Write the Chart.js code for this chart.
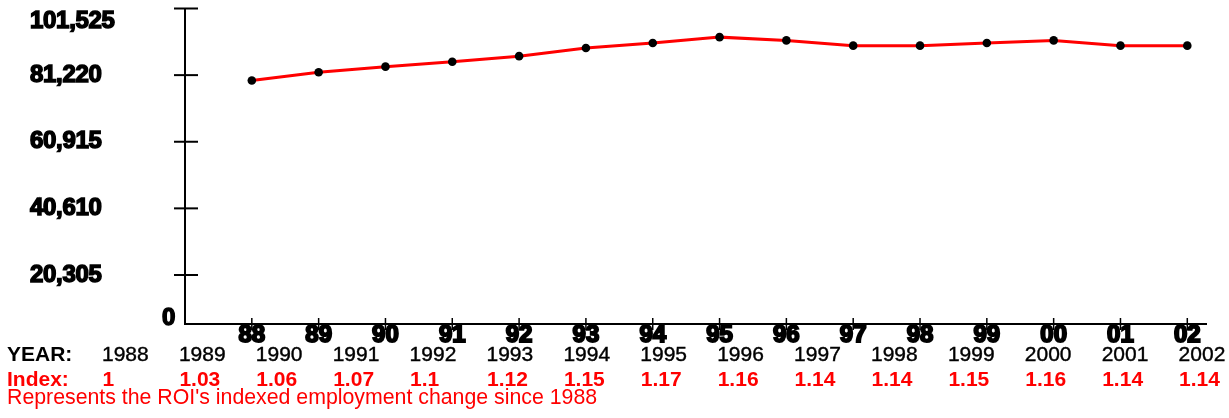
<!DOCTYPE html>
<html><head><meta charset="utf-8">
<script src="https://cdn.jsdelivr.net/npm/chart.js@4/dist/chart.umd.min.js"></script>
<style>
html,body{margin:0;padding:0;background:#fff;}
#wrap{position:relative;width:1229px;height:418px;overflow:hidden;}
canvas{position:absolute;left:0;top:0;}
.t{position:absolute;font-family:"Liberation Sans",Arial,sans-serif;font-size:21px;line-height:20px;white-space:nowrap;}
.b{font-weight:bold;}
.k{color:#000;}
.r{color:#ff0000;}
.yr{-webkit-text-stroke:0.4px #000;}
.cap{font-size:21.3px;}
</style></head><body>
<div id="wrap"><canvas id="c" width="1229" height="418"></canvas><div id="table"></div></div>
<script>
// ---- data ----
const categories = ['88','89','90','91','92','93','94','95','96','97','98','99','00','01','02'];
const employment = [79600, 82100, 83800, 85300, 87000, 89500, 91000, 92800, 91800, 90200, 90200, 91000, 91800, 90200, 90200];
const yTickValues = [0, 20305, 40610, 60915, 81220, 101525];
const years = ['1988','1989','1990','1991','1992','1993','1994','1995','1996','1997','1998','1999','2000','2001','2002'];
const indexValues = ['1','1.03','1.06','1.07','1.1','1.12','1.15','1.17','1.16','1.14','1.14','1.15','1.16','1.14','1.14'];
const rowLabelYear = 'YEAR:';
const rowLabelIndex = 'Index:';
const caption = "Represents the ROI's indexed employment change since 1988";

const FONT = '"Liberation Sans", Arial, sans-serif';

const yAxisPlugin = {
  id: 'yAxisCustom',
  afterDraw(chart) {
    const ctx = chart.ctx, ys = chart.scales.y, xs = chart.scales.x, area = chart.chartArea;
    ctx.save();
    ctx.strokeStyle = '#000'; ctx.lineWidth = 2;
    yTickValues.forEach(v => {
      const p = ys.getPixelForValue(v);
      if (p >= area.top - 1 && p <= area.bottom) {
        ctx.beginPath(); ctx.moveTo(area.left - 11, p); ctx.lineTo(area.left + 13, p); ctx.stroke();
      }
    });
    ctx.lineWidth = 1.5;
    categories.forEach((c, i) => {
      const p = xs.getPixelForValue(i);
      ctx.beginPath(); ctx.moveTo(p, area.bottom - 6); ctx.lineTo(p, area.bottom + 6); ctx.stroke();
    });
    ctx.font = 'bold 24px ' + FONT;
    ctx.letterSpacing = '-0.3px';
    ctx.fillStyle = '#000'; ctx.strokeStyle = '#000'; ctx.lineWidth = 1.5;
    ctx.textBaseline = 'middle';
    yTickValues.forEach(v => {
      const p = ys.getPixelForValue(v);
      const txt = v.toLocaleString('en-US');
      if (p > area.bottom) {
        ctx.textAlign = 'right';
        ctx.fillText(txt, 175, 318); ctx.strokeText(txt, 175, 318);
      } else {
        const yy = Math.max(p, 21);
        ctx.textAlign = 'left';
        ctx.fillText(txt, 30, yy); ctx.strokeText(txt, 30, yy);
      }
    });
    ctx.restore();
  }
};

new Chart(document.getElementById('c'), {
  type: 'line',
  data: {
    datasets: [{
      data: employment.map((v, i) => ({x: i, y: v})),
      borderColor: '#ff0000',
      borderWidth: 3,
      pointRadius: 4.3,
      pointBackgroundColor: '#000',
      pointBorderColor: '#000',
      pointBorderWidth: 0,
      tension: 0
    }]
  },
  options: {
    responsive: false,
    animation: false,
    devicePixelRatio: 1,
    layout: { padding: { left: 0, top: 8.5, right: 23, bottom: 0 } },
    plugins: { legend: { display: false }, tooltip: { enabled: false } },
    scales: {
      x: {
        type: 'linear',
        min: -1, max: 14.28,
        afterBuildTicks: s => { s.ticks = categories.map((c, i) => ({value: i})); },
        afterFit: s => { s.height = 94; },
        grid: { display: true, drawOnChartArea: false, drawTicks: false },
        border: { display: true, color: '#000', width: 2 },
        ticks: {
          autoSkip: false, maxRotation: 0,
          padding: -3,
          color: '#000',
          font: { family: FONT, size: 24, weight: 'bold' },
          textStrokeColor: '#000', textStrokeWidth: 2,
          callback: v => categories[v] !== undefined ? categories[v] : ''
        }
      },
      y: {
        type: 'linear',
        min: 5370, max: 101525,
        afterFit: s => { s.width = 185; },
        grid: { display: true, drawOnChartArea: false, drawTicks: false },
        border: { display: true, color: '#000', width: 2 },
        ticks: { display: false }
      }
    }
  },
  plugins: [yAxisPlugin]
});

// ---- table below the chart ----
const tbl = document.getElementById('table');
function addText(txt, left, top, cls) {
  const d = document.createElement('div');
  d.className = 't ' + cls;
  d.textContent = txt;
  d.style.left = left + 'px';
  d.style.top = top + 'px';
  tbl.appendChild(d);
}
addText(rowLabelYear, 7, 343.5, 'b k');
addText(rowLabelIndex, 7, 368.5, 'b r');
years.forEach((y, i) => addText(y, 102 + 76.9 * i, 343.5, 'k yr'));
indexValues.forEach((v, i) => addText(v, 102.5 + 76.9 * i, 368.5, 'b r'));
addText(caption, 7, 387, 'r cap');
</script>
</body></html>
